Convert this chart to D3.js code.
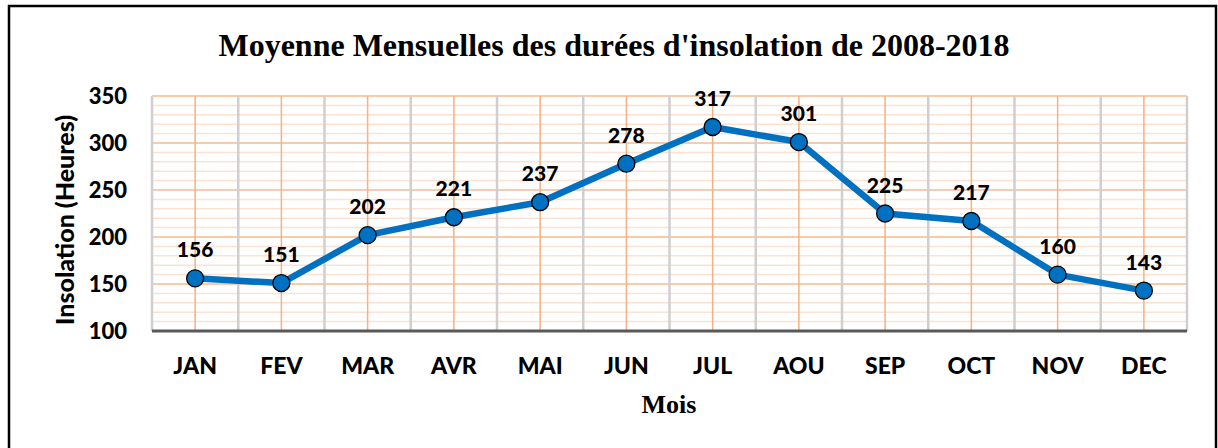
<!DOCTYPE html>
<html>
<head>
<meta charset="utf-8">
<script src="https://cdn.jsdelivr.net/npm/d3@7"></script>
<style>
  body { margin: 0; background: #fff; }
  svg { display: block; }
</style>
</head>
<body>
<div class="container"></div>
<script>
// Data
const months = ["JAN", "FEV", "MAR", "AVR", "MAI", "JUN", "JUL", "AOU", "SEP", "OCT", "NOV", "DEC"];
const insolation = [156, 151, 202, 221, 237, 278, 317, 301, 225, 217, 160, 143];
const yTicks = [100, 150, 200, 250, 300, 350];
const minorTicks = d3.range(100, 351, 10);

const WIDTH = 1218;
const HEIGHT = 448;
const sans = "Lato, 'Open Sans', sans-serif";
const serif = "'Liberation Serif', 'Times New Roman', serif";

const svg = d3.select(".container")
  .append("svg")
  .attr("width", WIDTH)
  .attr("height", HEIGHT);

// Scales
const x = d3.scaleBand().domain(months).range([152, 1187]);
const y = d3.scaleLinear().domain([100, 350]).range([331, 96]);

// Outer frame
svg.append("rect")
  .attr("x", 9).attr("y", 6)
  .attr("width", 1207).attr("height", 470)
  .attr("fill", "none")
  .attr("stroke", "#000")
  .attr("stroke-width", 2.5);

// Title
svg.append("text")
  .attr("x", 614).attr("y", 56)
  .attr("text-anchor", "middle")
  .style("font-family", serif)
  .style("font-weight", "bold")
  .style("font-size", "32px")
  .text("Moyenne Mensuelles des durées d'insolation de 2008-2018");

const grid = svg.append("g").attr("class", "grid");

// Minor horizontal gridlines
grid.selectAll(".minor")
  .data(minorTicks.filter((d) => d % 50 !== 0))
  .join("line")
  .attr("x1", 152).attr("x2", 1187)
  .attr("y1", (d) => y(d)).attr("y2", (d) => y(d))
  .attr("stroke", "#fbe2d2")
  .attr("stroke-width", 1.5);

// Major horizontal gridlines
grid.selectAll(".major")
  .data(yTicks.filter((d) => d !== 100))
  .join("line")
  .attr("x1", 152).attr("x2", 1187)
  .attr("y1", (d) => y(d)).attr("y2", (d) => y(d))
  .attr("stroke", "#f8cbad")
  .attr("stroke-width", 2);

// Band boundary lines (gray)
const bounds = months.map((m) => x(m)).concat([x.range()[1]]);
grid.selectAll(".bound")
  .data(bounds)
  .join("line")
  .attr("x1", (d) => d).attr("x2", (d) => d)
  .attr("y1", y(350)).attr("y2", y(100))
  .attr("stroke", "#d0cece")
  .attr("stroke-width", 2.5);

// Category center lines (orange)
grid.selectAll(".center")
  .data(months)
  .join("line")
  .attr("x1", (d) => x(d) + x.bandwidth() / 2)
  .attr("x2", (d) => x(d) + x.bandwidth() / 2)
  .attr("y1", y(350)).attr("y2", y(100))
  .attr("stroke", "#f4b183")
  .attr("stroke-width", 1.5);

// Bottom axis line
svg.append("line")
  .attr("x1", 152).attr("x2", 1187)
  .attr("y1", y(100)).attr("y2", y(100))
  .attr("stroke", "#595959")
  .attr("stroke-width", 3);

// Y tick labels
svg.selectAll(".ytick")
  .data(yTicks)
  .join("text")
  .attr("x", 127)
  .attr("y", (d) => y(d) + 8)
  .attr("text-anchor", "end")
  .style("font-family", sans)
  .style("font-weight", 900)
  .style("font-size", "22px")
  .text((d) => d);

// X tick labels
svg.selectAll(".xtick")
  .data(months)
  .join("text")
  .attr("x", (d) => x(d) + x.bandwidth() / 2)
  .attr("y", 374)
  .attr("text-anchor", "middle")
  .style("font-family", sans)
  .style("font-weight", 900)
  .style("font-size", "23px")
  .text((d) => d);

// Axis titles
svg.append("text")
  .attr("transform", "translate(74,220) rotate(-90)")
  .attr("text-anchor", "middle")
  .style("font-family", sans)
  .style("font-weight", 900)
  .style("font-size", "25px")
  .text("Insolation (Heures)");

svg.append("text")
  .attr("x", 669).attr("y", 413)
  .attr("text-anchor", "middle")
  .style("font-family", serif)
  .style("font-weight", "bold")
  .style("font-size", "26px")
  .text("Mois");

// Series line
const line = d3.line()
  .x((d, i) => x(months[i]) + x.bandwidth() / 2)
  .y((d) => y(d));

svg.append("path")
  .datum(insolation)
  .attr("d", line)
  .attr("fill", "none")
  .attr("stroke", "#0070c0")
  .attr("stroke-width", 6.5)
  .attr("stroke-linejoin", "round");

// Markers
svg.selectAll(".point")
  .data(insolation)
  .join("circle")
  .attr("cx", (d, i) => x(months[i]) + x.bandwidth() / 2)
  .attr("cy", (d) => y(d))
  .attr("r", 8.5)
  .attr("fill", "#0070c0")
  .attr("stroke", "#000")
  .attr("stroke-width", 1.3);

// Data labels
svg.selectAll(".label")
  .data(insolation)
  .join("text")
  .attr("x", (d, i) => x(months[i]) + x.bandwidth() / 2)
  .attr("y", (d) => y(d) - 21)
  .attr("text-anchor", "middle")
  .style("font-family", sans)
  .style("font-weight", 900)
  .style("font-size", "21px")
  .text((d) => d);
</script>
</body>
</html>
